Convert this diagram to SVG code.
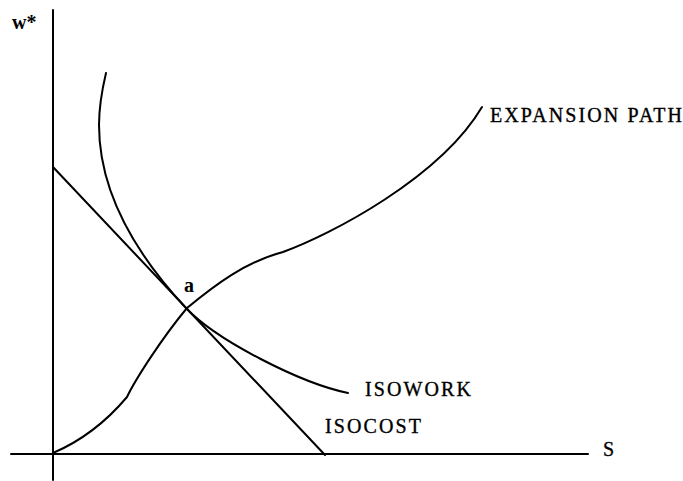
<svg xmlns="http://www.w3.org/2000/svg" width="683" height="481" viewBox="0 0 683 481">
<style>
.ln{fill:none;stroke:#000;stroke-width:2;stroke-linecap:round;stroke-linejoin:round}
.t{font-family:"Liberation Serif",serif;font-size:20px;fill:#000;stroke:#000;stroke-width:0.35;letter-spacing:2.1px}
.b{font-weight:bold;letter-spacing:0;stroke-width:0}
</style>
<rect width="683" height="481" fill="#fff"/>
<g id="axes">
<path class="ln" d="M53,10 V480"/>
<path class="ln" d="M11,454 H588"/>
<text class="t b" x="12" y="29" font-size="18">w*</text>
<text class="t" x="603" y="456">S</text>
</g>
<g id="connectors">
<path id="isocost" class="ln" d="M53,167 L325,455"/>
<path id="isowork" class="ln" d="M106,73 C102,90 99,105 99,125 C99,200 144,263 186,308 C216,340 300,383 348,393"/>
<path id="expansion" class="ln" d="M53,453 Q95,435 127,397 C135,380 162,338 187,308 C215,285 245,262 283,252 C330,235 440,178 482,107"/>
</g>
<g id="labels">
<text class="t b" x="184" y="292">a</text>
<text class="t" x="365" y="396">ISOWORK</text>
<text class="t" x="325" y="433">ISOCOST</text>
<text class="t" x="490" y="122">EXPANSION PATH</text>
</g>
</svg>
